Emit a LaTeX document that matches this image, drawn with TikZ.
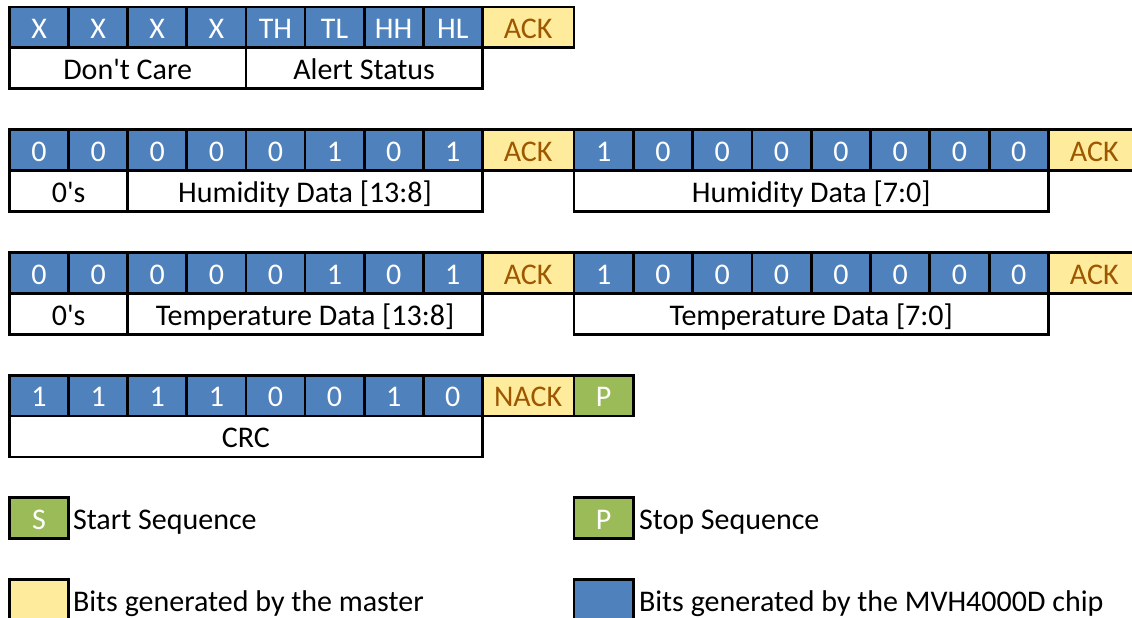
\documentclass[tikz,border=0pt]{standalone}
\usepackage{fontspec}
\setmainfont{Carlito}[Ligatures=TeXOff]
\definecolor{bitblue}{HTML}{4F81BD}
\definecolor{ackfill}{HTML}{FFEB9C}
\definecolor{acktext}{HTML}{9C5700}
\definecolor{stopgreen}{HTML}{9BBB59}
\newcommand\cellfont{\fontsize{30}{35}\selectfont}
\begin{document}
\begin{tikzpicture}[x=1pt,y=-1pt,
  every node/.style={inner sep=0pt, outer sep=0pt},
  box/.style={draw=black, line width=2.8pt, minimum height=40.9pt, font=\cellfont, text height=22.8pt, text depth=0pt},
  bit/.style={box, fill=bitblue, text=white, minimum width=59.1pt},
  bitb/.style={bit, minimum width=59.3pt},
  ack/.style={box, fill=ackfill, text=acktext, minimum width=91.7pt},
  lbl/.style={box, fill=white, text=black},
  stopbox/.style={box, fill=stopgreen, text=white, minimum width=59.3pt},
  legtext/.style={anchor=west, font=\cellfont, text height=22.8pt, text depth=0pt}
]
\useasboundingbox[fill=white] (0,0) rectangle (1132,618);

% ---- Row 1
\foreach \v [count=\i from 0] in {X,X,X,X,TH,TL,HH,HL}
  \node[bit] (r1b\i) at ({39.05+59.1*\i},27.45) {\v};
\node[ack] (r1ack) at (528.15,27.45) {ACK};
\node[lbl, minimum width=236.4pt] (r1dc) at (127.7,68.35) {Don't Care};
\node[lbl, minimum width=236.4pt] (r1as) at (364.1,68.35) {Alert Status};

% ---- Row 2
\foreach \v [count=\i from 0] in {0,0,0,0,0,1,0,1}
  \node[bit] (r2a\i) at ({39.05+59.1*\i},150.15) {\v};
\node[ack] (r2acka) at (528.15,150.15) {ACK};
\foreach \v [count=\i from 0] in {1,0,0,0,0,0,0,0}
  \node[bitb] (r2b\i) at ({603.65+59.3*\i},150.15) {\v};
\node[ack] (r2ackb) at (1094.2,150.15) {ACK};
\node[lbl, minimum width=118.2pt] (r2z) at (68.6,191.05) {0's};
\node[lbl, minimum width=354.6pt] (r2hh) at (305,191.05) {Humidity Data [13:8]};
\node[lbl, minimum width=474.4pt] (r2hl) at (811.2,191.05) {Humidity Data [7:0]};

% ---- Row 3
\foreach \v [count=\i from 0] in {0,0,0,0,0,1,0,1}
  \node[bit] (r3a\i) at ({39.05+59.1*\i},272.85) {\v};
\node[ack] (r3acka) at (528.15,272.85) {ACK};
\foreach \v [count=\i from 0] in {1,0,0,0,0,0,0,0}
  \node[bitb] (r3b\i) at ({603.65+59.3*\i},272.85) {\v};
\node[ack] (r3ackb) at (1094.2,272.85) {ACK};
\node[lbl, minimum width=118.2pt] (r3z) at (68.6,313.75) {0's};
\node[lbl, minimum width=354.6pt] (r3th) at (305,313.75) {Temperature Data [13:8]};
\node[lbl, minimum width=474.4pt] (r3tl) at (811.2,313.75) {Temperature Data [7:0]};

% ---- Row 4
\foreach \v [count=\i from 0] in {1,1,1,1,0,0,1,0}
  \node[bit] (r4a\i) at ({39.05+59.1*\i},395.55) {\v};
\node[ack] (r4nack) at (528.15,395.55) {NACK};
\node[stopbox] (r4p) at (603.65,395.55) {P};
\node[lbl, minimum width=472.8pt] (r4crc) at (245.9,436.45) {CRC};

% ---- Legend
\node[stopbox, minimum width=59.1pt] (legS) at (39.05,518.25) {S};
\node[legtext] (legSt) at (73,518.25) {Start Sequence};
\node[stopbox] (legP) at (603.65,518.25) {P};
\node[legtext] (legPt) at (639,518.25) {Stop Sequence};
\node[ack, minimum width=59.1pt] (legM) at (39.05,600.05) {};
\node[legtext] (legMt) at (73,600.05) {Bits generated by the master};
\node[bitb] (legC) at (603.65,600.05) {};
\node[legtext] (legCt) at (639,600.05) {Bits generated by the MVH4000D chip};
\end{tikzpicture}
\end{document}
